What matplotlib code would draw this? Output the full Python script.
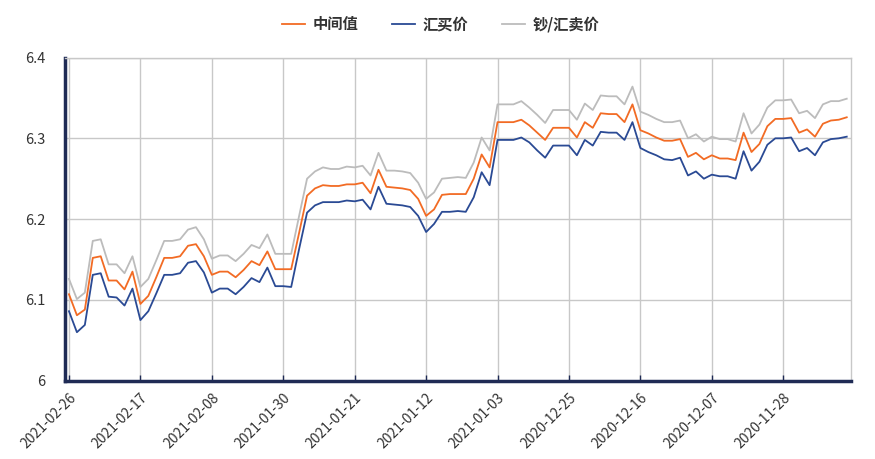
import matplotlib
matplotlib.use("Agg")
import matplotlib.pyplot as plt
import pandas as pd

plt.rcParams['font.family'] = ['Noto Sans CJK SC', 'DejaVu Sans']

# dates, newest first (daily)
dates = [d.strftime('%Y-%m-%d') for d in pd.date_range('2020-11-20', '2021-02-26', freq='D')[::-1]]

mid = [6.107, 6.081, 6.088, 6.152, 6.154, 6.124, 6.124, 6.113, 6.135, 6.095,
       6.105, 6.128, 6.152, 6.152, 6.154, 6.167, 6.169, 6.154, 6.131, 6.135,
       6.135, 6.128, 6.137, 6.148, 6.143, 6.160, 6.138, 6.138, 6.138, 6.183,
       6.229, 6.238, 6.242, 6.241, 6.241, 6.243, 6.243, 6.245, 6.232, 6.261,
       6.240, 6.239, 6.238, 6.236, 6.225, 6.204, 6.212, 6.230, 6.231, 6.231,
       6.231, 6.250, 6.280, 6.264, 6.320, 6.320, 6.320, 6.323, 6.316, 6.307,
       6.298, 6.313, 6.313, 6.313, 6.301, 6.320, 6.313, 6.331, 6.330, 6.330,
       6.320, 6.342, 6.310, 6.306, 6.301, 6.297, 6.297, 6.299, 6.277, 6.282,
       6.274, 6.279, 6.275, 6.275, 6.273, 6.307, 6.283, 6.293, 6.315, 6.324,
       6.324, 6.325, 6.307, 6.311, 6.302, 6.318, 6.322, 6.323, 6.326]

buy = [6.086, 6.060, 6.069, 6.131, 6.133, 6.104, 6.103, 6.093, 6.114, 6.075,
       6.086, 6.108, 6.131, 6.131, 6.133, 6.146, 6.148, 6.134, 6.109, 6.114,
       6.114, 6.107, 6.116, 6.127, 6.122, 6.140, 6.117, 6.117, 6.116, 6.163,
       6.208, 6.217, 6.221, 6.221, 6.221, 6.223, 6.222, 6.224, 6.212, 6.240,
       6.219, 6.218, 6.217, 6.215, 6.204, 6.184, 6.194, 6.209, 6.209, 6.210,
       6.209, 6.227, 6.258, 6.242, 6.298, 6.298, 6.298, 6.301, 6.295, 6.285,
       6.276, 6.291, 6.291, 6.291, 6.279, 6.298, 6.291, 6.308, 6.307, 6.307,
       6.298, 6.320, 6.288, 6.283, 6.279, 6.274, 6.273, 6.276, 6.254, 6.259,
       6.250, 6.255, 6.253, 6.253, 6.250, 6.284, 6.260, 6.271, 6.292, 6.300,
       6.300, 6.301, 6.284, 6.288, 6.279, 6.295, 6.299, 6.300, 6.302]

sell = [6.126, 6.101, 6.109, 6.173, 6.175, 6.144, 6.144, 6.133, 6.154, 6.116,
        6.126, 6.149, 6.173, 6.173, 6.175, 6.187, 6.190, 6.175, 6.151, 6.155,
        6.155, 6.148, 6.157, 6.168, 6.164, 6.181, 6.157, 6.157, 6.157, 6.204,
        6.250, 6.259, 6.264, 6.262, 6.262, 6.265, 6.264, 6.266, 6.254, 6.282,
        6.260, 6.260, 6.259, 6.257, 6.245, 6.225, 6.233, 6.250, 6.251, 6.252,
        6.251, 6.270, 6.301, 6.285, 6.342, 6.342, 6.342, 6.346, 6.338, 6.329,
        6.319, 6.335, 6.335, 6.335, 6.323, 6.343, 6.335, 6.353, 6.352, 6.352,
        6.342, 6.364, 6.333, 6.329, 6.324, 6.320, 6.320, 6.322, 6.300, 6.305,
        6.296, 6.302, 6.299, 6.299, 6.296, 6.331, 6.306, 6.317, 6.338, 6.347,
        6.347, 6.348, 6.331, 6.334, 6.325, 6.342, 6.346, 6.346, 6.349]

series_names = ['中间值', '汇买价', '钞/汇卖价']
colors = ['#f26b24', '#2a4a94', '#bcbcbc']
yticks = [6, 6.1, 6.2, 6.3, 6.4]
ytick_labels = ['6', '6.1', '6.2', '6.3', '6.4']

fig = plt.figure(figsize=(8.75, 4.59), dpi=100)
ax = fig.add_axes([65/875, 1-380.7/459, (850.7-65)/875, (380.7-57.5)/459])

x = list(range(len(dates)))
for vals, name, c in zip([mid, buy, sell], series_names, colors):
    ax.plot(x, vals, color=c, lw=1.3, label=name)

ax.set_xlim(-0.5, len(dates) - 0.5)
ax.set_ylim(6, 6.4)
ax.set_yticks(yticks)
ax.set_yticklabels(ytick_labels)
tick_idx = list(range(0, len(dates), 9))
ax.set_xticks(tick_idx)
ax.set_xticklabels([dates[i] for i in tick_idx], rotation=45, ha='right',
                   rotation_mode='anchor')

ax.grid(True, color='#c8c8c8', lw=1)
ax.set_axisbelow(True)
for s in ['top', 'right']:
    ax.spines[s].set_color('#c8c8c8')
    ax.spines[s].set_linewidth(1)
for s in ['left', 'bottom']:
    ax.spines[s].set_color('#1f2b55')
    ax.spines[s].set_linewidth(2.5)

ax.tick_params(axis='y', length=0, pad=14, labelsize=10.5, labelcolor='#333333')
ax.tick_params(axis='x', direction='in', length=4, width=1, color='#1f2b55',
               pad=7, labelsize=10, labelcolor='#333333')

leg = fig.legend(loc='center', bbox_to_anchor=(0.504, 1-24/459), ncol=3,
                 frameon=False, handlelength=1.5, handletextpad=0.5,
                 columnspacing=2.2,
                 prop={'size': 11, 'weight': 'bold'}, labelcolor='#333333')

fig.savefig('out.png', dpi=100)
